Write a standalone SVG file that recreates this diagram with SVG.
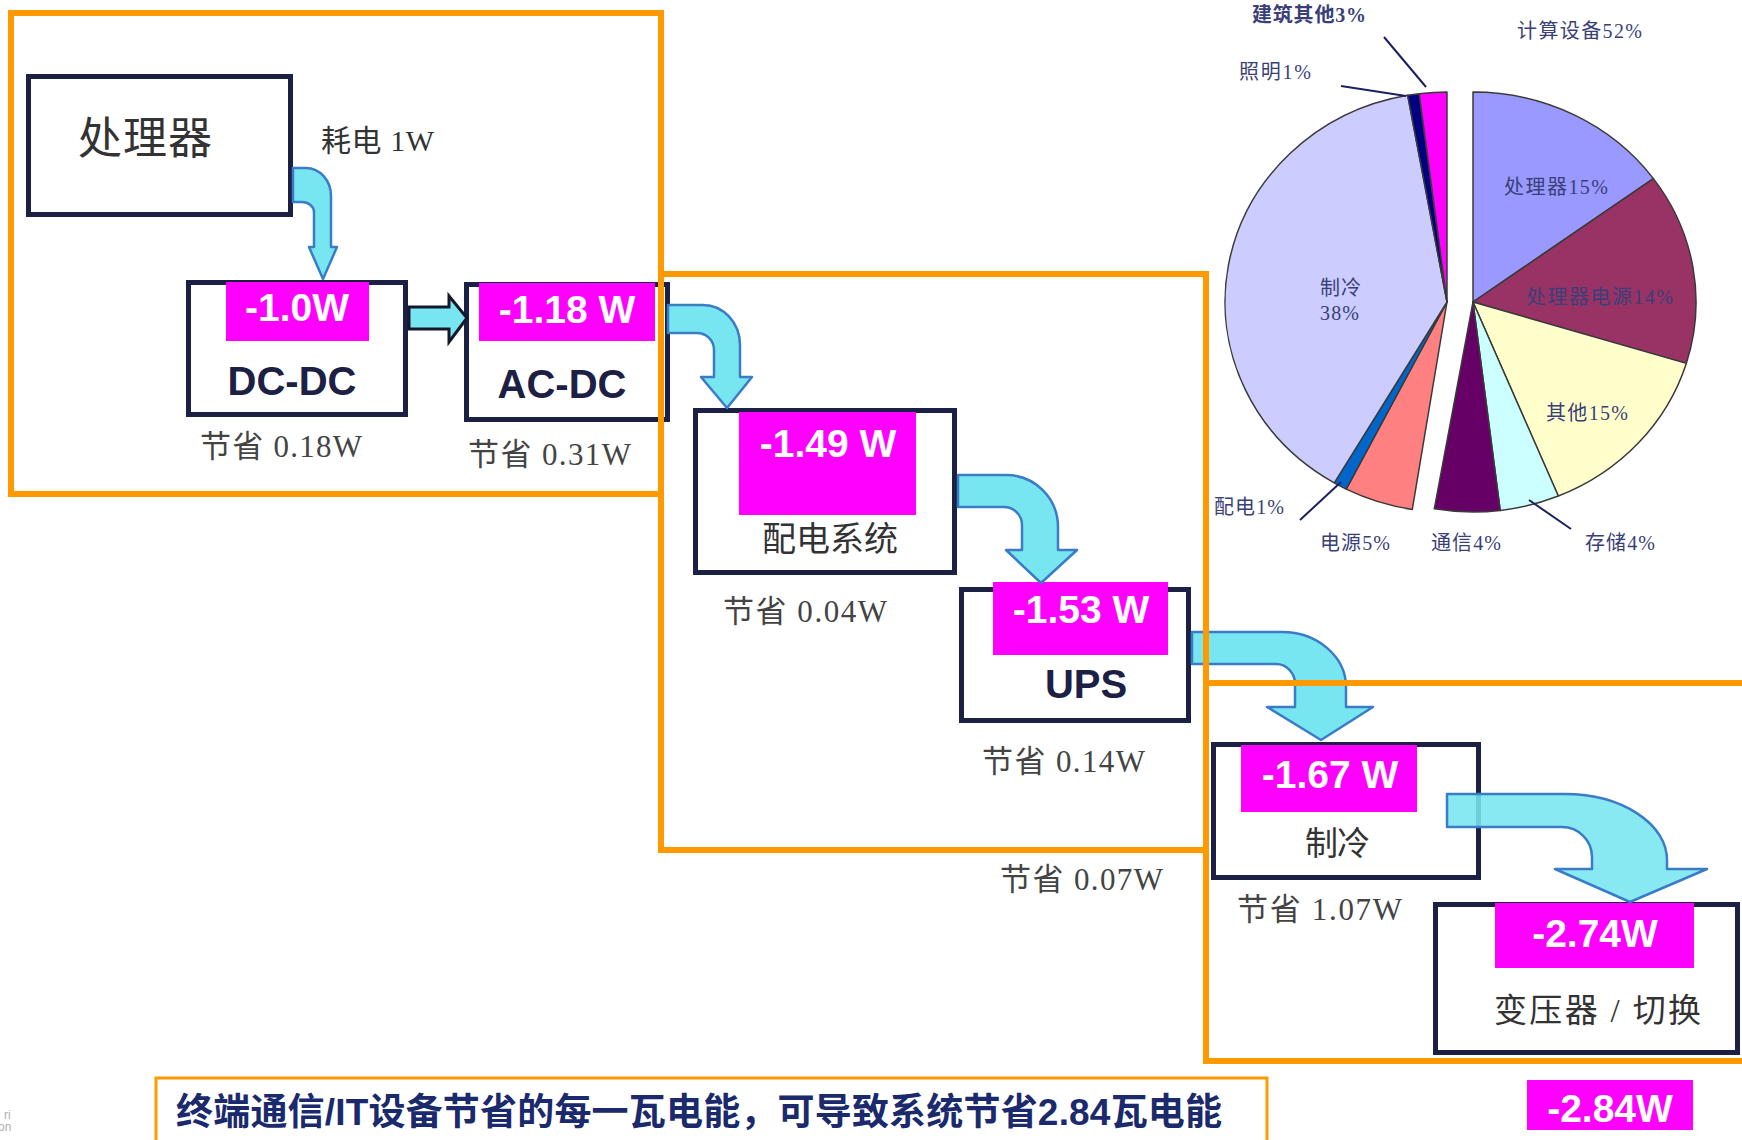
<svg xmlns="http://www.w3.org/2000/svg" width="1742" height="1140" viewBox="0 0 1742 1140">
<style>
.orange{fill:none;stroke:#ff9900;stroke-width:6}
.orange2{fill:none;stroke:#ff9900;stroke-width:3}
.box{fill:#ffffff;stroke:#1c2044;stroke-width:5}
.mag{fill:#ff00ff}
.val{font-family:"Liberation Sans",Arial,sans-serif;font-weight:bold;font-size:39px;fill:#ffffff;text-anchor:middle}
.lbl{font-family:"Liberation Sans",Arial,sans-serif;font-weight:bold;font-size:40px;fill:#1c2044;text-anchor:middle}
.cn{font-family:"Liberation Serif","Noto Sans CJK SC",serif;fill:#333333}
.save{font-family:"Liberation Serif","Noto Sans CJK SC",serif;font-size:31px;fill:#444444}
.arrow{fill:#77e6f0;stroke:#3a7cc6;stroke-width:2.5;stroke-linejoin:round}
.arrowk{fill:#77e6f0;stroke:#15182a;stroke-width:3;stroke-linejoin:miter}
.slice{stroke:#3a3a3a;stroke-width:1.5;stroke-linejoin:round}
.pl{font-family:"Liberation Serif","Noto Sans CJK SC",serif;font-size:20px;fill:#3a3f78}
.lead{stroke:#1a2060;stroke-width:2;fill:none}
</style>
<rect x="0" y="0" width="1742" height="1140" fill="#ffffff"/>

<!-- pie chart -->
<g id="pie">
  <g id="pie-building">
    <path class="slice" fill="#ff8080" d="M1447,302 L1412.3,509.4 A222,210 0 0 1 1346.2,489.1 Z"/>
    <path class="slice" fill="#0066cc" d="M1447,302 L1346.2,489.1 A222,210 0 0 1 1334.3,482.9 Z"/>
    <path class="slice" fill="#ccccff" d="M1447,302 L1334.3,482.9 A222,210 0 0 1 1407.7,95.3 Z"/>
    <path class="slice" fill="#000080" d="M1447,302 L1407.7,95.3 A222,210 0 0 1 1419.2,93.7 Z"/>
    <path class="slice" fill="#ff00ff" stroke="#663366" d="M1447,302 L1419.2,93.7 A222,210 0 0 1 1447,92 Z"/>
  </g>
  <g id="pie-computing">
    <path class="slice" fill="#9999ff" d="M1473,302 L1473,92 A223,210 0 0 1 1653.4,178.6 Z"/>
    <path class="slice" fill="#993366" d="M1473,302 L1653.4,178.6 A223,210 0 0 1 1686.3,363.4 Z"/>
    <path class="slice" fill="#ffffcc" d="M1473,302 L1686.3,363.4 A223,210 0 0 1 1558.3,496 Z"/>
    <path class="slice" fill="#ccffff" d="M1473,302 L1558.3,496 A223,210 0 0 1 1500.2,510.4 Z"/>
    <path class="slice" fill="#660066" d="M1473,302 L1500.2,510.4 A223,210 0 0 1 1434.3,508.8 Z"/>
  </g>
  <g id="pie-leaders">
    <line class="lead" x1="1384" y1="37" x2="1426" y2="87"/>
    <line class="lead" x1="1341" y1="86" x2="1406" y2="96"/>
    <line class="lead" x1="1300" y1="520" x2="1341" y2="482"/>
    <line class="lead" x1="1529" y1="500" x2="1571" y2="529"/>
  </g>
  <g id="pie-labels">
    <text class="pl" x="1252" y="22" font-weight="bold" fill="#1a2050" textLength="114">建筑其他3%</text>
    <text class="pl" x="1517" y="38" fill="#55597f" textLength="125">计算设备52%</text>
    <text class="pl" x="1239" y="79" textLength="72">照明1%</text>
    <text class="pl" x="1504" y="194" fill="#ffffff" textLength="104">处理器15%</text>
    <text class="pl" x="1526" y="304" fill="#ffffff" textLength="147">处理器电源14%</text>
    <text class="pl" x="1320" y="295" fill="#4a4f8a" textLength="41">制冷</text>
    <text class="pl" x="1320" y="320" fill="#4a4f8a" textLength="39">38%</text>
    <text class="pl" x="1546" y="420" fill="#333366" textLength="82">其他15%</text>
    <text class="pl" x="1214" y="514" textLength="70">配电1%</text>
    <text class="pl" x="1320" y="550" textLength="70">电源5%</text>
    <text class="pl" x="1431" y="550" textLength="70">通信4%</text>
    <text class="pl" x="1585" y="550" textLength="70">存储4%</text>
  </g>
</g>

<!-- nodes -->
<g id="node-processor">
  <rect class="box" x="28.5" y="76.5" width="262" height="138"/>
  <text class="cn" x="78" y="154" font-size="44" textLength="134">处理器</text>
</g>
<text id="label-consume" class="cn" x="321" y="151" font-size="30" fill="#333" textLength="113">耗电 1W</text>

<g id="node-dcdc">
  <rect class="box" x="188.5" y="282.5" width="217" height="132"/>
  <rect class="mag" x="226" y="282" width="143" height="59"/>
  <text class="val" x="297" y="321">-1.0W</text>
  <text class="lbl" x="292" y="395">DC-DC</text>
  <text class="save" x="200" y="457" textLength="162">节省 0.18W</text>
</g>

<g id="node-acdc">
  <rect class="box" x="466.5" y="284.5" width="201" height="135"/>
  <rect class="mag" x="479" y="283" width="176" height="58"/>
  <text class="val" x="567" y="323">-1.18 W</text>
  <text class="lbl" x="562" y="398">AC-DC</text>
  <text class="save" x="468" y="465" textLength="163">节省 0.31W</text>
</g>

<g id="node-distribution">
  <rect class="box" x="695.5" y="410.5" width="259" height="162"/>
  <rect class="mag" x="739" y="412" width="177" height="103"/>
  <text class="val" x="828" y="457">-1.49 W</text>
  <text class="cn" x="762" y="551" font-size="34" textLength="136">配电系统</text>
  <text class="save" x="723" y="622" textLength="164">节省 0.04W</text>
</g>

<g id="node-ups">
  <rect class="box" x="961.5" y="589.5" width="227" height="131"/>
  <rect class="mag" x="993" y="582" width="175" height="73"/>
  <text class="val" x="1081" y="623">-1.53 W</text>
  <text class="lbl" x="1086" y="698" font-size="43">UPS</text>
  <text class="save" x="982" y="772" textLength="163">节省 0.14W</text>
  <text class="save" x="1000" y="890" textLength="163">节省 0.07W</text>
</g>

<g id="node-cooling">
  <rect class="box" x="1213.5" y="744.5" width="265" height="133"/>
  <rect class="mag" x="1241" y="745" width="176" height="67"/>
  <text class="val" x="1330" y="788">-1.67 W</text>
  <text class="cn" x="1305" y="855" font-size="33" textLength="65">制冷</text>
  <text class="save" x="1237" y="920" textLength="165">节省 1.07W</text>
</g>

<g id="node-transformer">
  <rect class="box" x="1435.5" y="904.5" width="302" height="148"/>
  <rect class="mag" x="1495" y="903" width="199" height="65"/>
  <text class="val" x="1595" y="947">-2.74W</text>
  <text class="cn" x="1494" y="1022" font-size="33" textLength="207">变压器 / 切换</text>
</g>

<g id="node-total">
  <rect class="mag" x="1527" y="1080" width="166" height="50"/>
  <text class="val" x="1610" y="1122">-2.84W</text>
</g>

<!-- connectors -->
<g id="connectors">
  <path class="arrow" d="M293,168 L306,168 A25,28 0 0 1 331,196 L331,247 L337,247 L323,279 L309,247 L314,247 L314,212 A12,10 0 0 0 302,202 L293,202 Z"/>
  <path class="arrowk" d="M409,307 L449,307 L449,296 L467,318 L449,342 L449,329 L409,329 Z"/>
  <path class="arrow" d="M668,305 L703,305 A37,40 0 0 1 740,345 L740,377 L752,377 L727,408 L701,377 L714,377 L714,350 A17,17 0 0 0 697,333 L668,333 Z"/>
  <path class="arrow" d="M958,475 L1006,475 A52,52 0 0 1 1058,527 L1058,550 L1077,550 L1041,583 L1006,550 L1022,550 L1022,525 A18,18 0 0 0 1004,507 L958,507 Z"/>
  <path class="arrow" d="M1192,632 L1282,632 A64,55 0 0 1 1346,687 L1346,707 L1373,707 L1321,740 L1267,707 L1295,707 L1295,684 A19,20 0 0 0 1276,664 L1192,664 Z"/>
  <path class="arrow" fill-opacity="0.88" d="M1447,794 L1565,794 A102,66 0 0 1 1667,860 L1667,869 L1707,869 L1630,902 L1555,869 L1592,869 L1592,857 A30,30 0 0 0 1562,827 L1447,827 Z"/>
</g>

<!-- highlight frames -->
<g id="frames">
  <rect class="orange" x="11" y="13" width="650" height="481"/>
  <rect class="orange" x="661" y="274" width="545" height="576"/>
  <rect class="orange" x="1206" y="683" width="545" height="378"/>
  <rect class="orange2" x="156" y="1078" width="1111" height="80"/>
</g>

<g id="summary">
  <text x="176" y="1125" font-family="'Liberation Sans','Noto Sans CJK SC',sans-serif" font-weight="bold" font-size="37" fill="#1a2a6c" textLength="1046">终端通信/IT设备节省的每一瓦电能，可导致系统节省2.84瓦电能</text>
</g>

<text x="4" y="1119" font-family="'Liberation Sans',sans-serif" font-size="12" fill="#b0b0b0">ri</text>
<text x="-2" y="1131" font-family="'Liberation Sans',sans-serif" font-size="12" fill="#b0b0b0">on</text>
</svg>
